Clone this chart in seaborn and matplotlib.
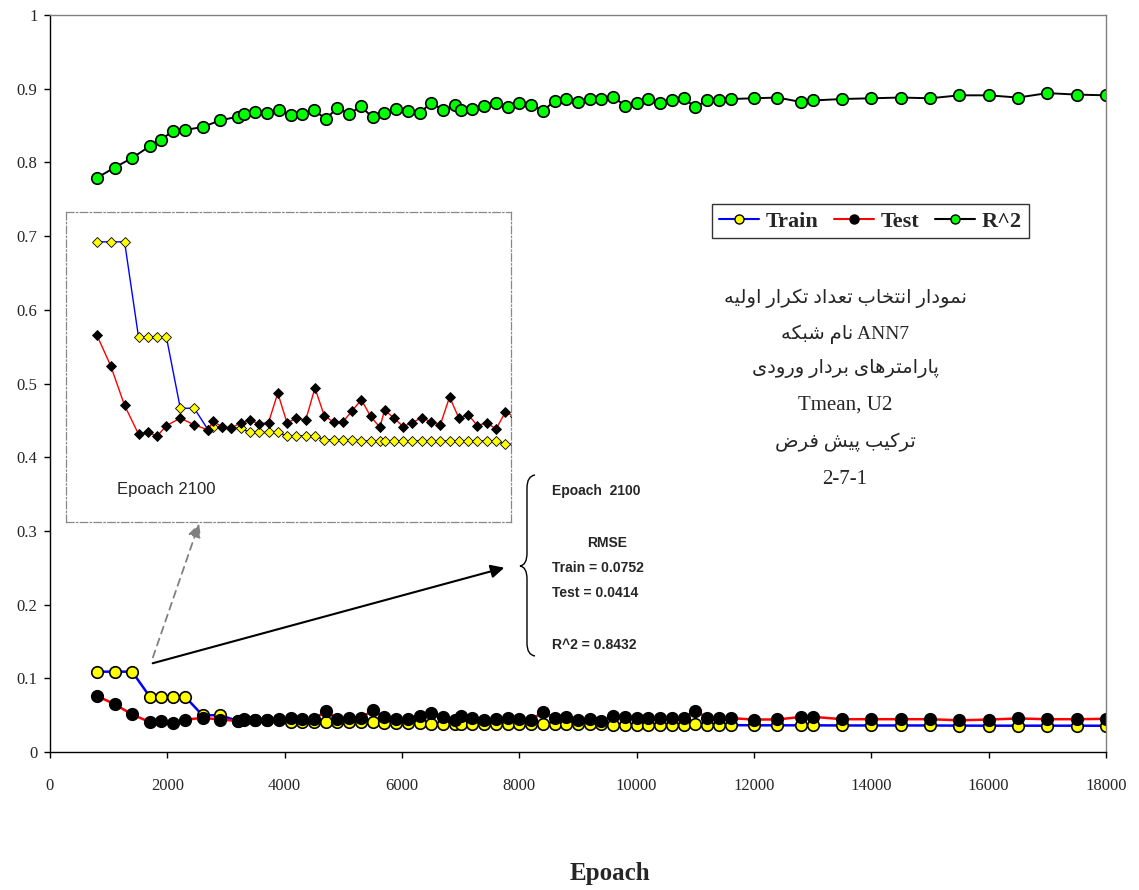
import numpy as np
import pandas as pd
import matplotlib
matplotlib.use('Agg')
import matplotlib.pyplot as plt
import seaborn as sns
from matplotlib.lines import Line2D
from matplotlib.path import Path
from matplotlib.patches import PathPatch

epochs = [800, 1100, 1400, 1700, 1900, 2100, 2300, 2600, 2900, 3200, 3300,
          3500, 3700, 3900, 4100, 4300, 4500, 4700, 4900, 5100, 5300, 5500,
          5700, 5900, 6100, 6300, 6500, 6700, 6900, 7000, 7200, 7400, 7600,
          7800, 8000, 8200, 8400, 8600, 8800, 9000, 9200, 9400, 9600, 9800,
          10000, 10200, 10400, 10600, 10800, 11000, 11200, 11400, 11600,
          12000, 12400, 12800, 13000, 13500, 14000, 14500, 15000, 15500,
          16000, 16500, 17000, 17500, 18000]

train = [0.109, 0.109, 0.109, 0.0752, 0.0752, 0.0752, 0.0752, 0.0499, 0.0499, 0.0422, 0.0431,
         0.0431, 0.0428, 0.0428, 0.0413, 0.0413, 0.0413, 0.0413, 0.0401, 0.0401, 0.0401, 0.0401,
         0.0387, 0.0387, 0.0387, 0.0387, 0.0383, 0.0383, 0.0383, 0.0383, 0.0383, 0.0383, 0.0383,
         0.0383, 0.0383, 0.0383, 0.0383, 0.0383, 0.0383, 0.0383, 0.0383, 0.0383, 0.0371, 0.0371,
         0.0371, 0.0371, 0.0371, 0.0371, 0.0371, 0.0375, 0.0365, 0.0365, 0.0365,
         0.0362, 0.0362, 0.0362, 0.0362, 0.0360, 0.0360, 0.0360, 0.0360, 0.0358,
         0.0357, 0.0357, 0.0357, 0.0357, 0.0356]

test = [0.0760, 0.0650, 0.0509, 0.0407, 0.0414, 0.0400, 0.0437, 0.0464, 0.0440, 0.0422, 0.0452,
        0.0434, 0.0428, 0.0448, 0.0456, 0.0444, 0.0448, 0.0553, 0.0446, 0.0464, 0.0456, 0.0571,
        0.0473, 0.0450, 0.0450, 0.0490, 0.0529, 0.0470, 0.0431, 0.0493, 0.0464, 0.0434, 0.0448,
        0.0466, 0.0450, 0.0440, 0.0539, 0.0464, 0.0476, 0.0437, 0.0448, 0.0425, 0.0485, 0.0470,
        0.0460, 0.0455, 0.0460, 0.0465, 0.0460, 0.0560, 0.0465, 0.0460, 0.0460,
        0.0440, 0.0442, 0.0475, 0.0478, 0.0445, 0.0445, 0.0445, 0.0445, 0.0430,
        0.0440, 0.0455, 0.0445, 0.0445, 0.0450]

r2 = [0.779, 0.793, 0.806, 0.822, 0.831, 0.8432, 0.844, 0.848, 0.857, 0.862, 0.866,
      0.869, 0.867, 0.871, 0.864, 0.866, 0.871, 0.859, 0.874, 0.866, 0.876, 0.861,
      0.867, 0.872, 0.870, 0.867, 0.881, 0.871, 0.878, 0.871, 0.873, 0.877, 0.880,
      0.875, 0.881, 0.878, 0.870, 0.883, 0.886, 0.882, 0.886, 0.886, 0.889, 0.877,
      0.881, 0.886, 0.881, 0.884, 0.887, 0.875, 0.884, 0.885, 0.886,
      0.887, 0.888, 0.882, 0.884, 0.886, 0.887, 0.888, 0.887, 0.891,
      0.891, 0.888, 0.894, 0.892, 0.891]

xticks = [0, 2000, 4000, 6000, 8000, 10000, 12000, 14000, 16000, 18000]
xtick_labels = ['0', '2000', '4000', '6000', '8000', '10000', '12000', '14000', '16000', '18000']
yticks = [0, 0.1, 0.2, 0.3, 0.4, 0.5, 0.6, 0.7, 0.8, 0.9, 1.0]
ytick_labels = ['0', '0.1', '0.2', '0.3', '0.4', '0.5', '0.6', '0.7', '0.8', '0.9', '1']

note_lines = ['نمودار انتخاب تعداد تکرار اولیه', 'نام شبکه', 'پارامترهای بردار ورودی',
              'Tmean, U2', 'ترکیب پیش فرض', '2-7-1']
rmse_lines = ['Epoach  2100', 'RMSE', 'Train = 0.0752', 'Test = 0.0414', 'R^2 = 0.8432']

# minimal persian shaping (matplotlib has no bidi / joining)
FORMS = {
    '\u0627': ('\uFE8D', '\uFE8E', None, None),
    '\u0628': ('\uFE8F', '\uFE90', '\uFE91', '\uFE92'),
    '\u067E': ('\uFB56', '\uFB57', '\uFB58', '\uFB59'),
    '\u062A': ('\uFE95', '\uFE96', '\uFE97', '\uFE98'),
    '\u062E': ('\uFEA5', '\uFEA6', '\uFEA7', '\uFEA8'),
    '\u062F': ('\uFEA9', '\uFEAA', None, None),
    '\u0631': ('\uFEAD', '\uFEAE', None, None),
    '\u0634': ('\uFEB5', '\uFEB6', '\uFEB7', '\uFEB8'),
    '\u0636': ('\uFEBD', '\uFEBE', '\uFEBF', '\uFEC0'),
    '\u0639': ('\uFEC9', '\uFECA', '\uFECB', '\uFECC'),
    '\u0641': ('\uFED1', '\uFED2', '\uFED3', '\uFED4'),
    '\u06A9': ('\uFB8E', '\uFB8F', '\uFB90', '\uFB91'),
    '\u0644': ('\uFEDD', '\uFEDE', '\uFEDF', '\uFEE0'),
    '\u0645': ('\uFEE1', '\uFEE2', '\uFEE3', '\uFEE4'),
    '\u0646': ('\uFEE5', '\uFEE6', '\uFEE7', '\uFEE8'),
    '\u0647': ('\uFEE9', '\uFEEA', '\uFEEB', '\uFEEC'),
    '\u0648': ('\uFEED', '\uFEEE', None, None),
    '\u06CC': ('\uFBFC', '\uFBFD', '\uFBFE', '\uFBFF'),
}


def shape_fa(s):
    out = []
    for i, ch in enumerate(s):
        f = FORMS.get(ch)
        if f is None:
            out.append(ch)
            continue
        prev = s[i - 1] if i > 0 else ''
        nxt = s[i + 1] if i + 1 < len(s) else ''
        pj = prev in FORMS and FORMS[prev][2] is not None
        nj = f[2] is not None and nxt in FORMS
        if pj and nj:
            out.append(f[3])
        elif pj:
            out.append(f[1])
        elif nj:
            out.append(f[2])
        else:
            out.append(f[0])
    return ''.join(reversed(out))


df = pd.DataFrame({'Epoach': epochs, 'Train': train, 'Test': test, 'R^2': r2})

sns.set_style('ticks')
plt.rcParams['font.family'] = ['Liberation Serif', 'DejaVu Sans']

W, H = 1139, 890
fig = plt.figure(figsize=(W / 100, H / 100), dpi=100)


def fx(px):
    return px / W


def fy(py):
    return 1 - py / H


ax = fig.add_axes([fx(50), fy(752), (1106 - 50) / W, (752 - 15) / H])

sns.lineplot(data=df, x='Epoach', y='Train', ax=ax, color='blue', lw=1.8, marker='o',
             markersize=8.3, markerfacecolor='yellow', markeredgecolor='black', markeredgewidth=1.2)
sns.lineplot(data=df, x='Epoach', y='Test', ax=ax, color='red', lw=1.8, marker='o',
             markersize=8.3, markerfacecolor='black', markeredgecolor='black', markeredgewidth=1.2)
sns.lineplot(data=df, x='Epoach', y='R^2', ax=ax, color='black', lw=1.4, marker='o',
             markersize=8.3, markerfacecolor='#00ff00', markeredgecolor='black', markeredgewidth=1.2)

ax.set_xlim(0, 18000)
ax.set_ylim(0, 1)
ax.set_xticks(xticks)
ax.set_xticklabels(xtick_labels)
ax.set_yticks(yticks)
ax.set_yticklabels(ytick_labels)
ax.tick_params(axis='both', direction='out', length=4, width=1, color='black', labelsize=12)
ax.tick_params(axis='x', pad=15)
ax.tick_params(axis='y', pad=5)
ax.set_ylabel('')
ax.set_xlabel('Epoach', fontsize=18, fontweight='bold')
ax.xaxis.set_label_coords(0.530, -0.165)
ax.xaxis.label.set_va('center')
for side in ['left', 'bottom']:
    ax.spines[side].set_color('black')
    ax.spines[side].set_linewidth(1)
for side in ['top', 'right']:
    ax.spines[side].set_color('#808080')
    ax.spines[side].set_linewidth(1)

handles = [
    Line2D([], [], color='blue', lw=1.5, marker='o', markersize=6.5, mfc='yellow', mec='black'),
    Line2D([], [], color='red', lw=1.5, marker='o', markersize=6.5, mfc='black', mec='black'),
    Line2D([], [], color='black', lw=1.5, marker='o', markersize=6.5, mfc='#00ff00', mec='black'),
]
leg = ax.legend(handles, ['Train', 'Test', 'R^2'], loc='center', bbox_to_anchor=(0.777, 0.72),
                ncol=3, frameon=True, fancybox=False, edgecolor='black',
                prop={'weight': 'bold', 'size': 16, 'family': 'Liberation Serif'},
                handlelength=1.8, handletextpad=0.3, columnspacing=0.7, borderpad=0.3)
leg.get_frame().set_linewidth(1)

# zoomed inset
iax = fig.add_axes([fx(66), fy(522), 445 / W, 310 / H])
sns.lineplot(data=df, x='Epoach', y='Train', ax=iax, color='blue', lw=1, marker='D',
             markersize=4.8, markerfacecolor='yellow', markeredgecolor='black', markeredgewidth=0.6)
sns.lineplot(data=df, x='Epoach', y='Test', ax=iax, color='red', lw=1, marker='D',
             markersize=4.8, markerfacecolor='black', markeredgecolor='black', markeredgewidth=0.6)
iax.set_xlim(138, 9723)
iax.set_ylim(0.0095, 0.1196)
iax.set_xticks([])
iax.set_yticks([])
iax.set_xlabel('')
iax.set_ylabel('')
for sp in iax.spines.values():
    sp.set_color('#888888')
    sp.set_linestyle((0, (6, 2, 1, 2)))
    sp.set_linewidth(0.9)
iax.text(0.115, 0.106, 'Epoach 2100', transform=iax.transAxes, ha='left', va='center',
         fontsize=12, family='Liberation Sans')

# arrows
ax.annotate('', xy=(507, H - 567), xytext=(150, H - 664), xycoords='figure pixels',
            textcoords='figure pixels',
            arrowprops=dict(arrowstyle='-|>', color='black', lw=1.5, mutation_scale=20))
ax.annotate('', xy=(200, H - 521), xytext=(152, H - 660), xycoords='figure pixels',
            textcoords='figure pixels',
            arrowprops=dict(arrowstyle='-|>', color='#808080', lw=1.3, ls=(0, (4, 3)),
                            mutation_scale=20))

# brace
bx = [535, 527, 527, 527, 527, 520, 527, 527, 527, 527, 535]
by = [475, 476, 488, 553, 565, 566, 567, 579, 643, 655, 656]
codes = [Path.MOVETO, Path.CURVE3, Path.CURVE3, Path.LINETO, Path.CURVE3, Path.CURVE3,
         Path.CURVE3, Path.CURVE3, Path.LINETO, Path.CURVE3, Path.CURVE3]
brace = Path([(fx(a), fy(b)) for a, b in zip(bx, by)], codes)
fig.add_artist(PathPatch(brace, transform=fig.transFigure, fill=False, lw=1, color='black'))

rmse_pos = [(552, 491, 'left'), (607, 543, 'center'), (552, 568, 'left'),
            (552, 593, 'left'), (552, 645, 'left')]
for (px, py, ha), txt in zip(rmse_pos, rmse_lines):
    fig.text(fx(px), fy(py), txt, ha=ha, va='center', fontsize=10, fontweight='bold',
             family='Liberation Sans')

note_y = [298, 334, 369, 405, 442, 479]
for i, (txt, py) in enumerate(zip(note_lines, note_y)):
    if i == 1:
        s = shape_fa(txt) + ' ANN7'
        size = 14
    elif i in (3, 5):
        s = txt
        size = 15
    else:
        s = shape_fa(txt)
        size = 14
    fig.text(fx(845), fy(py), s, ha='center', va='center', fontsize=size,
             family=['Liberation Serif', 'DejaVu Sans'])

fig.savefig('out.png', dpi=100)
